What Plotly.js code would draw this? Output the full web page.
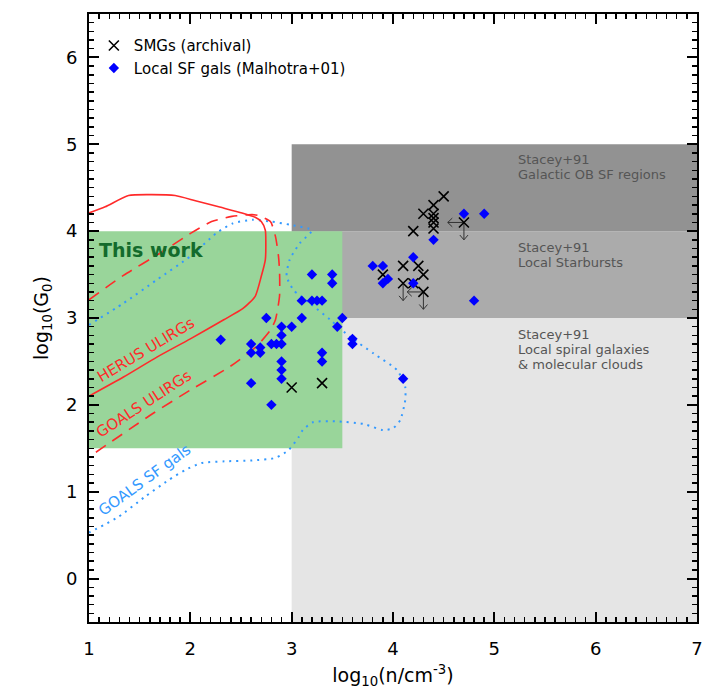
<!DOCTYPE html>
<html><head><meta charset="utf-8">
<script src="https://cdn.plot.ly/plotly-3.0.1.min.js"></script>
<style>html,body{margin:0;padding:0;background:#fff}</style>
</head><body><div id="chart" style="width:715px;height:689px"></div>
<script>
// ---- data ----
// SMGs (archival)
const smgX = [3.0, 3.3, 3.9, 4.1, 4.25, 4.3, 4.1, 4.2, 4.3, 4.2, 4.3, 4.4, 4.5, 4.4, 4.4, 4.4, 4.4, 4.7];
const smgY = [2.2, 2.25, 3.5, 3.6, 3.6, 3.5, 3.4, 3.4, 3.3, 4.0, 4.2, 4.3, 4.4, 4.2, 4.15, 4.1, 4.03, 4.1];
const smgLeftLim = [0,0,0,0,0,0,0,0,1,0,0,0,0,0,0,0,0,1];
const smgUpperLim = [0,0,0,0,0,0,1,0,1,0,0,0,0,0,0,0,0,1];
// Local SF gals (Malhotra+01)
const sfX = [2.3, 2.6, 2.6, 2.6, 2.69, 2.69, 2.75, 2.8, 2.85, 2.9, 2.8, 2.9, 2.9, 2.9, 2.9, 2.9, 3.0, 3.1, 3.1, 3.2, 3.2, 3.25, 3.3, 3.4, 3.4, 3.3, 3.3, 3.45, 3.5, 3.6, 3.6, 3.8, 3.9, 3.95, 3.9, 4.2, 4.2, 4.1, 4.4, 4.7, 4.9, 4.8];
const sfY = [2.75, 2.7, 2.6, 2.25, 2.66, 2.6, 3.0, 2.7, 2.7, 2.7, 2.0, 2.9, 2.8, 2.5, 2.4, 2.3, 2.9, 3.2, 3.0, 3.5, 3.2, 3.2, 3.2, 3.5, 3.4, 2.6, 2.5, 2.9, 3.0, 2.76, 2.7, 3.6, 3.6, 3.45, 3.4, 3.7, 3.4, 2.3, 3.9, 4.2, 4.2, 3.2];
// contours
const herusX = [1.0, 1.16, 1.39, 1.62, 1.85, 2.05, 2.28, 2.51, 2.64, 2.70, 2.74, 2.745, 2.74, 2.70, 2.64, 2.52, 2.33, 2.0, 1.67, 1.34, 1.0];
const herusY = [4.21, 4.28, 4.41, 4.42, 4.41, 4.35, 4.28, 4.21, 4.16, 4.11, 4.01, 3.85, 3.67, 3.48, 3.25, 3.11, 2.98, 2.76, 2.55, 2.32, 2.10];
const goalsUlX = [1.0, 1.34, 1.72, 2.01, 2.21, 2.41, 2.61, 2.67, 2.79, 2.84, 2.87, 2.88, 2.88, 2.84, 2.79, 2.65, 2.39, 2.0, 1.63, 1.0];
const goalsUlY = [3.21, 3.49, 3.76, 3.98, 4.11, 4.17, 4.19, 4.18, 4.11, 3.94, 3.71, 3.55, 3.25, 2.98, 2.86, 2.67, 2.44, 2.17, 1.90, 1.40];
const goalsSfX = [1.0, 1.34, 1.67, 2.0, 2.26, 2.42, 2.61, 2.80, 3.0, 3.2, 3.08, 2.98, 2.95, 3.02, 3.18, 3.38, 3.58, 3.81, 4.04, 4.12, 4.12, 4.07, 4.0, 3.90, 3.71, 3.44, 3.21, 3.11, 3.07, 2.97, 2.84, 2.61, 2.34, 2.11, 1.95, 1.78, 1.55, 1.29, 1.0];
const goalsSfY = [2.92, 3.17, 3.44, 3.71, 3.98, 4.09, 4.13, 4.11, 4.07, 4.01, 3.86, 3.67, 3.48, 3.32, 3.17, 2.98, 2.78, 2.59, 2.40, 2.21, 2.05, 1.82, 1.73, 1.71, 1.78, 1.81, 1.80, 1.71, 1.63, 1.48, 1.39, 1.36, 1.35, 1.33, 1.25, 1.13, 0.94, 0.71, 0.53];
// regions
const regionNames = ["local", "starburst", "obsf", "thiswork"];
const regionX0 = [3, 3, 3, 1];
const regionX1 = [7, 7, 7, 3.5];
const regionY0 = [-0.5, 3, 4, 1.5];
const regionY1 = [3, 4, 5, 4];
const regionColors = ["#e5e5e5", "#ababab", "#929292", "#99d59a"];
const staceyLabels = [
  ["Stacey+91", "Galactic OB SF regions"],
  ["Stacey+91", "Local Starbursts"],
  ["Stacey+91", "Local spiral galaxies", "& molecular clouds"]
];
const staceyLabelY = [4.93, 3.92, 2.92];
const xRange = [1, 7];
const yRange = [-0.5, 6.5];

// ---- build ----
const shapes = regionX0.map((x0, i) => ({
  type: "rect", xref: "x", yref: "y", layer: "below",
  x0: x0, x1: regionX1[i], y0: regionY0[i], y1: regionY1[i],
  fillcolor: regionColors[i], line: {width: 0}
}));

// limit arrows
const ax = [], ay = [];
const arrLenX = 0.16, arrLenY = 0.2, hx = 0.045, hy = 0.05;
smgX.forEach((x, i) => {
  const y = smgY[i];
  if (smgLeftLim[i]) {
    const xe = x - arrLenX;
    ax.push(x, xe, null, xe + hx, xe, xe + hx, null);
    ay.push(y, y, null, y + hy, y, y - hy, null);
  }
  if (smgUpperLim[i]) {
    const ye = y - arrLenY;
    ax.push(x, x, null, x - hx * 0.9, x, x + hx * 0.9, null);
    ay.push(y, ye, null, ye + hy * 1.1, ye, ye + hy * 1.1, null);
  }
});

const traces = [
  {x: goalsSfX, y: goalsSfY, mode: "lines", line: {color: "#3399ff", width: 2, dash: "2px,5px", shape: "spline", smoothing: 0.6}, showlegend: false, hoverinfo: "skip"},
  {x: goalsUlX, y: goalsUlY, mode: "lines", line: {color: "#ff2a2a", width: 1.6, dash: "12px,8px", shape: "spline", smoothing: 0.6}, showlegend: false, hoverinfo: "skip"},
  {x: herusX, y: herusY, mode: "lines", line: {color: "#ff2a2a", width: 1.6, shape: "spline", smoothing: 0.6}, showlegend: false, hoverinfo: "skip"},
  {x: ax, y: ay, mode: "lines", line: {color: "#333333", width: 1}, showlegend: false, hoverinfo: "skip", connectgaps: false},
  {x: smgX, y: smgY, mode: "markers", name: "SMGs (archival)",
   marker: {symbol: "x-thin-open", size: 10, color: "#000", line: {color: "#000", width: 1.6}}},
  {x: sfX, y: sfY, mode: "markers", name: "Local SF gals (Malhotra+01)",
   marker: {symbol: "diamond", size: 8, color: "#0000ff", line: {width: 0}}}
];

const annotations = [
  {x: 1.08, y: 3.78, xref: "x", yref: "y", xanchor: "left", yanchor: "middle", showarrow: false,
   text: "<b>This work</b>", font: {family: "DejaVu Sans", size: 19, color: "#136b2c"}},
  {x: 1.56, y: 2.63, xref: "x", yref: "y", showarrow: false, textangle: -31,
   text: "HERUS ULIRGs", font: {family: "DejaVu Sans", size: 15, color: "#ff2a2a"}},
  {x: 1.54, y: 2.01, xref: "x", yref: "y", showarrow: false, textangle: -33,
   text: "GOALS ULIRGs", font: {family: "DejaVu Sans", size: 15, color: "#ff2a2a"}},
  {x: 1.55, y: 1.13, xref: "x", yref: "y", showarrow: false, textangle: -36,
   text: "GOALS SF gals", font: {family: "DejaVu Sans", size: 15, color: "#3399ff"}}
];
staceyLabels.forEach((lines, i) => {
  lines.forEach((t, j) => {
    annotations.push({x: 5.21, y: staceyLabelY[i], xref: "x", yref: "y", xanchor: "left", yanchor: "top",
      yshift: -15 * j, showarrow: false, text: t,
      font: {family: "DejaVu Sans", size: 13, color: "#555555"}});
  });
});

const axisCommon = {
  showgrid: false, zeroline: false, showline: true, linecolor: "#000", linewidth: 2,
  mirror: "allticks", ticks: "inside", ticklen: 10, tickwidth: 2, tickcolor: "#000",
  tickfont: {family: "DejaVu Sans", size: 18, color: "#000"},
  minor: {ticks: "inside", ticklen: 5, tickwidth: 1.5, tickcolor: "#000", dtick: 0.1, showgrid: false}
};

const layout = {
  width: 715, height: 689,
  margin: {l: 89, r: 18, t: 14, b: 67},
  paper_bgcolor: "#fff", plot_bgcolor: "#fff",
  shapes: shapes, annotations: annotations,
  xaxis: Object.assign({}, axisCommon, {range: xRange, tick0: 1, dtick: 1, ticklabelstandoff: 9,
    title: {text: "log<sub>10</sub>(n/cm<sup>-3</sup>)", font: {family: "DejaVu Sans", size: 19, color: "#000"}, standoff: 15}}),
  yaxis: Object.assign({}, axisCommon, {range: yRange, tick0: 0, dtick: 1, ticklabelstandoff: 6,
    title: {text: "log<sub>10</sub>(G<sub>0</sub>)", font: {family: "DejaVu Sans", size: 19, color: "#000"}, standoff: 12}}),
  legend: {x: 0.008, y: 0.975, xanchor: "left", yanchor: "top", bgcolor: "rgba(0,0,0,0)",
    font: {family: "DejaVu Sans", size: 15, color: "#000"}, itemwidth: 30, tracegroupgap: 0},
  showlegend: true
};

Plotly.newPlot("chart", traces, layout, {staticPlot: true, displayModeBar: false});
</script>
</body></html>
